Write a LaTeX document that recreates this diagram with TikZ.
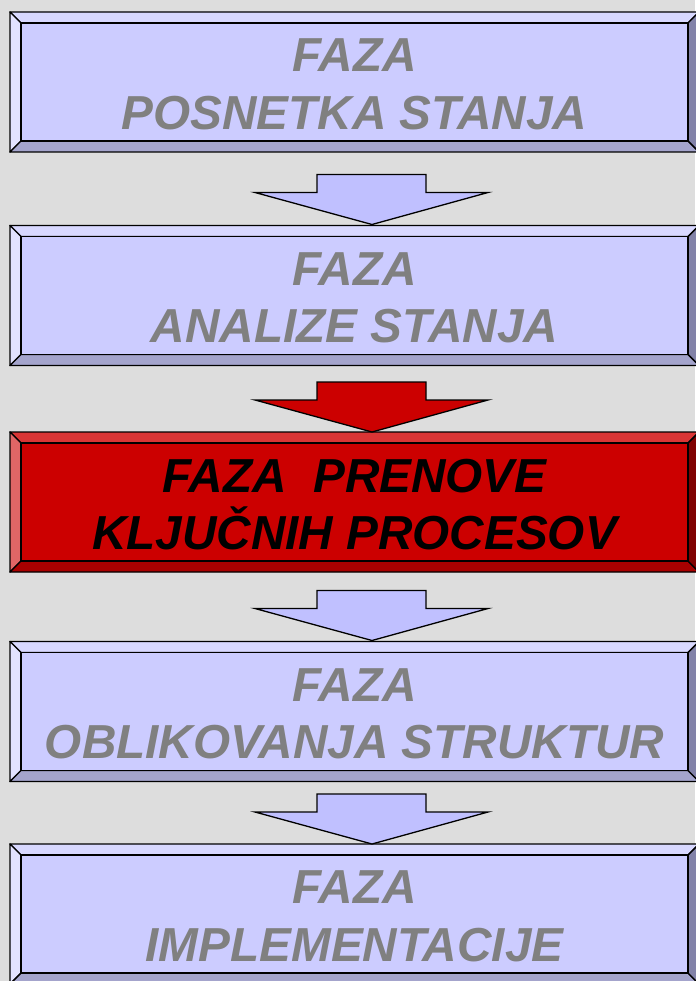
\documentclass[tikz,border=0pt]{standalone}
\usepackage{fontspec}
\setmainfont{Liberation Sans}
\usetikzlibrary{calc}
\definecolor{bgc}{HTML}{DDDDDD}
\definecolor{bfill}{HTML}{CCCCFF}
\definecolor{btop}{HTML}{D8D8FF}
\definecolor{bleft}{HTML}{E2E2FF}
\definecolor{bbot}{HTML}{A4A4CC}
\definecolor{bright}{HTML}{8282A8}
\definecolor{rfill}{HTML}{CC0000}
\definecolor{rtop}{HTML}{DA3535}
\definecolor{rleft}{HTML}{E06666}
\definecolor{rbot}{HTML}{A80000}
\definecolor{rright}{HTML}{800000}
\definecolor{barrow}{HTML}{C0C0FF}
\definecolor{txtgrey}{HTML}{808080}
\tikzset{
  outerbox/.style={minimum width=689pt, minimum height=140pt, inner sep=0pt, outer sep=0pt},
  bevel/.style={draw=black, line width=1.4pt, line join=round},
  innerbox/.style={draw=black, line width=1.8pt, minimum width=667pt, minimum height=118pt, inner sep=0pt, outer sep=0pt},
  boxtext/.style={inner sep=0pt, align=center, font=\fontsize{47.7}{57.5}\selectfont\bfseries\itshape},
  blockarrow/.style={draw=black, line width=1.3pt, line join=miter},
}
% #1 name, #2 center y, #3 colour prefix, #4 text colour, #5 text
\newcommand\bevbox[5]{%
  \node[outerbox] (#1) at (354.5,#2) {};
  \filldraw[bevel, fill=#3top] (#1.north west) -- (#1.north east) -- ($(#1.north east)+(-11,11)$) -- ($(#1.north west)+(11,11)$) -- cycle;
  \filldraw[bevel, fill=#3left] (#1.north west) -- ($(#1.north west)+(11,11)$) -- ($(#1.south west)+(11,-11)$) -- (#1.south west) -- cycle;
  \filldraw[bevel, fill=#3bot] (#1.south west) -- ($(#1.south west)+(11,-11)$) -- ($(#1.south east)+(-11,-11)$) -- (#1.south east) -- cycle;
  \filldraw[bevel, fill=#3right] (#1.north east) -- ($(#1.north east)+(-11,11)$) -- ($(#1.south east)+(-11,-11)$) -- (#1.south east) -- cycle;
  \node[innerbox, fill=#3fill] (#1in) at (#1.center) {};
  \node[boxtext, text=#4] (#1txt) at ($(#1.center)+(0,2.5)$) {#5};
}
% #1 tip coordinate name, #2 fill
\newcommand\blockdown[2]{%
  \filldraw[blockarrow, fill=#2] (#1) -- ++(-117,-32) -- ++(62,0) -- ++(0,-18) -- ++(109,0) -- ++(0,18) -- ++(62,0) -- cycle;
}
\begin{document}
\begin{tikzpicture}[x=1pt,y=-1pt]
\fill[bgc] (0,0) rectangle (695,981);
\useasboundingbox (0,0) rectangle (695,981);
\bevbox{b1}{82}{b}{txtgrey}{FAZA\\POSNETKA STANJA}
\bevbox{b2}{295.5}{b}{txtgrey}{FAZA\\ANALIZE STANJA}
\bevbox{b3}{502}{r}{black}{FAZA\ \ PRENOVE\\KLJUČNIH PROCESOV}
\bevbox{b4}{711.5}{b}{txtgrey}{FAZA\\OBLIKOVANJA STRUKTUR}
\bevbox{b5}{914}{b}{txtgrey}{FAZA\\IMPLEMENTACIJE}
\coordinate (t1) at ($(b2.north)+(17.5,-1)$);
\coordinate (t2) at ($(b3.north)+(17.5,0)$);
\coordinate (t3) at ($(b4.north)+(17.5,-1)$);
\coordinate (t4) at ($(b5.north)+(17.5,0)$);
\blockdown{t1}{barrow}
\blockdown{t2}{rfill}
\blockdown{t3}{barrow}
\blockdown{t4}{barrow}
\end{tikzpicture}
\end{document}
